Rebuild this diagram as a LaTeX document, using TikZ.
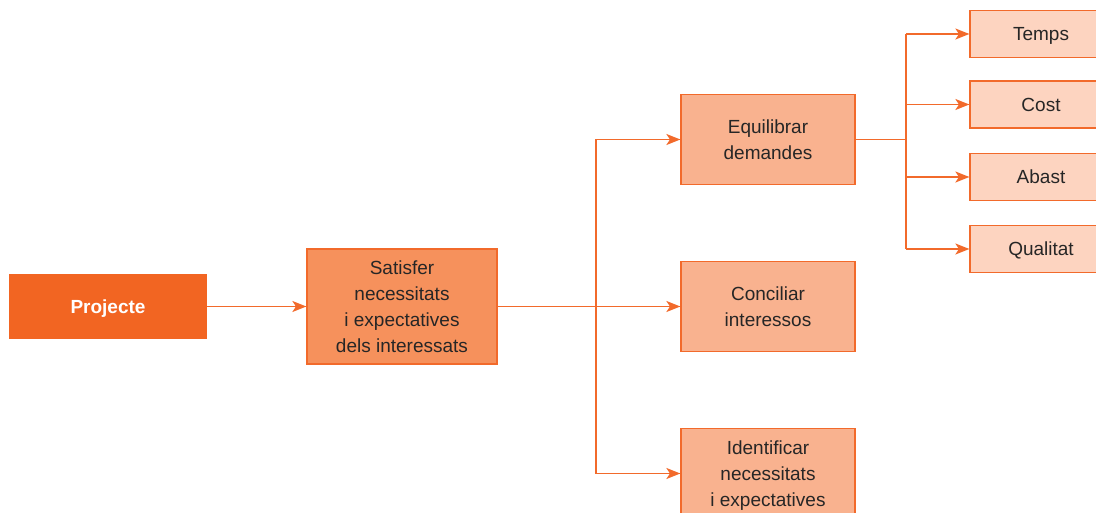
\documentclass[tikz,border=0pt]{standalone}
\usepackage{fontspec}
\setmainfont{Liberation Sans}
\usetikzlibrary{arrows.meta}
\definecolor{deeporange}{HTML}{F26522}
\definecolor{midorange}{HTML}{F6915C}
\definecolor{lightorange}{HTML}{F9B28F}
\definecolor{paleorange}{HTML}{FDD4C0}
\definecolor{lineorange}{HTML}{F26A2B}
\tikzset{
  box/.style={draw=lineorange, line width=1.2pt, align=center, text=black!85,
    font=\fontsize{19}{26}\selectfont, inner sep=0pt},
  onelinebox/.style={text height=13.6pt, text depth=0pt},
  rootbox/.style={box, onelinebox, fill=deeporange, draw=deeporange, text=white,
    font=\fontsize{19}{26}\selectfont\bfseries,
    minimum width=196pt, minimum height=63pt},
  mainbox/.style={box, fill=midorange, minimum width=190pt, minimum height=115pt},
  subbox/.style={box, fill=lightorange, minimum width=174pt, minimum height=90pt},
  leafbox/.style={box, onelinebox, fill=paleorange, minimum width=142pt, minimum height=47pt},
  link/.style={draw=lineorange, line width=1.6pt},
  arrow/.style={link, -{Stealth[length=14pt, width=11pt, inset=3.5pt]}},
}
\begin{document}
\begin{tikzpicture}[x=1pt, y=-1pt]
\useasboundingbox (0,0) rectangle (1096,513);
\clip (0,0) rectangle (1096,513);

% boxes
\node[rootbox] (proj) at (108,306.5) {Projecte};
\node[mainbox] (sat) at (402,306.5) {Satisfer\\necessitats\\i expectatives\\dels interessats};
\node[subbox] (equ) at (768,139.5) {Equilibrar\\demandes};
\node[subbox] (con) at (768,306.5) {Conciliar\\interessos};
\node[subbox, text depth=0pt] (ide) at (768,473.5) {Identificar\\necessitats\\i expectatives};
\node[leafbox] (tem) at (1041,34) {Temps};
\node[leafbox] (cos) at (1041,104.5) {Cost};
\node[leafbox] (aba) at (1041,177) {Abast};
\node[leafbox] (qua) at (1041,249) {Qualitat};

% junction points
\coordinate (j1) at (596,306.5);
\coordinate (j2) at (906,139.5);

% connectors
\draw[arrow] (proj.east) -- (sat.west);
\draw[arrow] (sat.east) -- (con.west);
\draw[link] (j1 |- equ.west) -- (j1 |- ide.west);
\draw[arrow] (j1 |- equ.west) -- (equ.west);
\draw[arrow] (j1 |- ide.west) -- (ide.west);

\draw[link] (equ.east) -- (j2);
\draw[link] (j2 |- tem.west) -- (j2 |- qua.west);
\draw[arrow] (j2 |- tem.west) -- (tem.west);
\draw[arrow] (j2 |- cos.west) -- (cos.west);
\draw[arrow] (j2 |- aba.west) -- (aba.west);
\draw[arrow] (j2 |- qua.west) -- (qua.west);
\end{tikzpicture}
\end{document}
